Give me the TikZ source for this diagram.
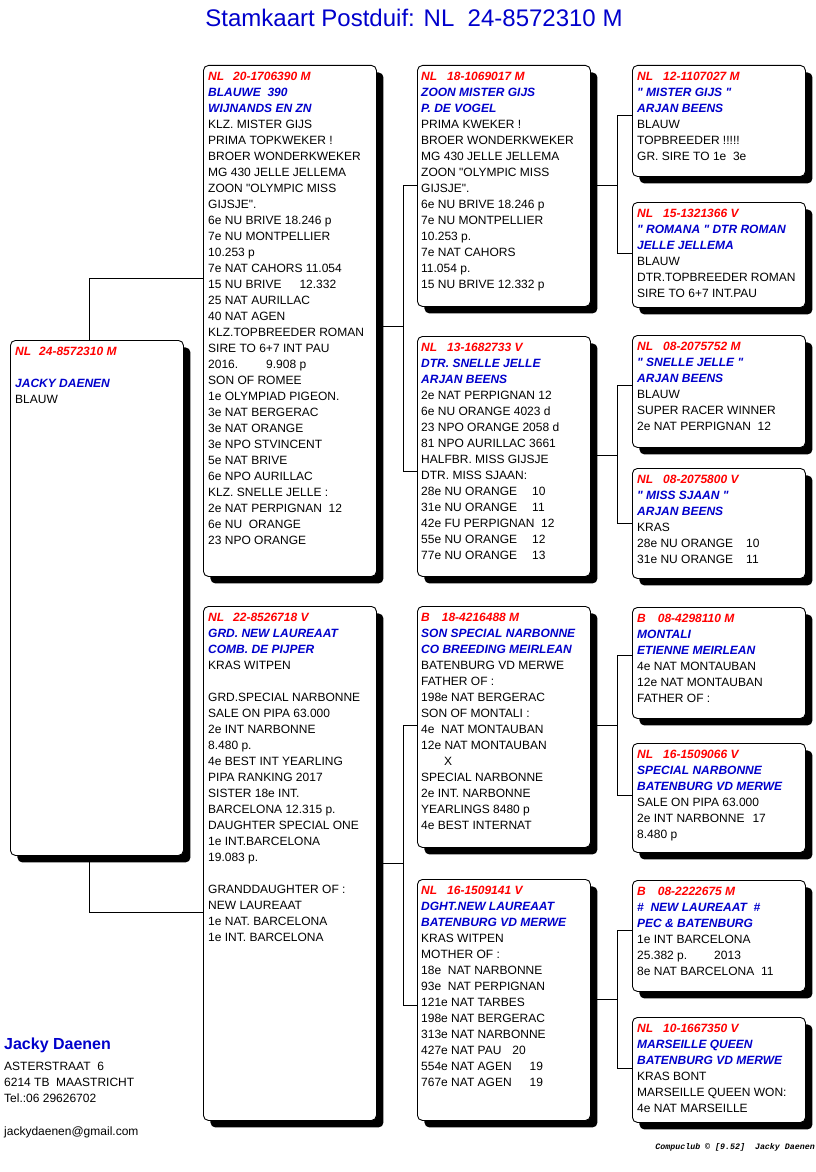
\documentclass[tikz,border=0pt]{standalone}
\usepackage{fontspec}
\setmainfont{Liberation Sans}[Ligatures=TeXOff]
\newfontfamily\clubfont{Liberation Mono}
\usepackage{xcolor}
\usepackage{tikz}
\usetikzlibrary{
  shadows,
  calc
}
\definecolor{pdRed}{HTML}{FF0000}
\definecolor{pdBlue}{HTML}{0000CC}
\newcommand{\ring}[1]{\textcolor{pdRed}{\bfseries\itshape #1}}
\newcommand{\naam}[1]{\textcolor{pdBlue}{\bfseries\itshape #1}}
\tikzset{
  card/.style={
    draw, line width=0.9pt, rounded corners=5pt, fill=white, anchor=north west,
    minimum width=173pt, inner sep=0pt,
    drop shadow={shadow xshift=7pt, shadow yshift=-7pt, fill=black, opacity=1}
  },
  cardtext/.style={anchor=north west, inner sep=0pt, align=left, font=\fontsize{12}{16}\selectfont},
  link/.style={line width=0.9pt, black},
  title/.style={anchor=base, inner sep=0pt, font=\fontsize{24}{28}\selectfont, text=pdBlue},
  owner/.style={anchor=north west, inner sep=0pt, align=left, font=\fontsize{12}{16}\selectfont},
  footer/.style={anchor=base east, inner sep=0pt, font=\clubfont\bfseries\itshape\fontsize{8.3}{10}\selectfont}
}
\begin{document}
\begin{tikzpicture}[x=1pt, y=-1pt]
  \fill[white] (0,0) rectangle (816,1172);
  \useasboundingbox (0,0) rectangle (816,1172);

  \node[title] (title) at (414,27) {Stamkaart Postduif: NL\ \ 24-8572310 M};

  \foreach \n/\x/\y/\h in {
    r/10/340/515,
    p1/203/65/511, p2/203/606/514,
    p11/417/65/241, p12/417/336/240, p21/417/606/241, p22/417/879/241,
    g1/632/65/111, g2/632/202/105, g3/632/335/112, g4/632/468/110,
    g5/632/607/111, g6/632/743/109, g7/632/880/111, g8/632/1017/105}{
    \node[card, minimum height=\h pt] (\n) at (\x,\y) {};
  }

  \draw[link] ([xshift=79pt]r.north west) |- ([yshift=-213pt]p1.north west);
  \draw[link] ([xshift=79pt]r.south west) |- ([yshift=-306pt]p2.north west);

  \draw[link] ([yshift=-261pt]p1.north east) -- ++(27,0);
  \draw[link] ([yshift=-120pt]p11.north west) -- ++(-14,0) |- ([yshift=-135pt]p12.north west);
  \draw[link] ([yshift=-257pt]p2.north east) -- ++(27,0);
  \draw[link] ([yshift=-119pt]p21.north west) -- ++(-14,0) |- ([yshift=-126pt]p22.north west);

  \draw[link] ([yshift=-120pt]p11.north east) -- ++(27,0);
  \draw[link] ([yshift=-50pt]g1.north west) -- ++(-15,0) |- ([yshift=-51pt]g2.north west);
  \draw[link] ([yshift=-119pt]p12.north east) -- ++(27,0);
  \draw[link] ([yshift=-50pt]g3.north west) -- ++(-15,0) |- ([yshift=-55pt]g4.north west);
  \draw[link] ([yshift=-119pt]p21.north east) -- ++(27,0);
  \draw[link] ([yshift=-48pt]g5.north west) -- ++(-15,0) |- ([yshift=-52pt]g6.north west);
  \draw[link] ([yshift=-120pt]p22.north east) -- ++(27,0);
  \draw[link] ([yshift=-50pt]g7.north west) -- ++(-15,0) |- ([yshift=-51pt]g8.north west);

  \node[cardtext] (rt) at ([shift={(5,7)}]r.north west)
    {\ring{NL\hspace{8pt}24-8572310 M}\\[16pt]\naam{JACKY DAENEN}\\BLAUW};

  \node[cardtext] (p1t) at ([shift={(5,7)}]p1.north west)
    {\ring{NL\hspace{9pt}20-1706390 M}\\
     \naam{BLAUWE\ \ 390}\\
     \naam{WIJNANDS EN ZN}\\
     KLZ. MISTER GIJS\\
     PRIMA TOPKWEKER !\\
     BROER WONDERKWEKER\\
     MG 430 JELLE JELLEMA\\
     ZOON "OLYMPIC MISS\\
     GIJSJE".\\
     6e NU BRIVE 18.246 p\\
     7e NU MONTPELLIER\\
     10.253 p\\
     7e NAT CAHORS 11.054\\
     15 NU BRIVE\hspace{18pt}12.332\\
     25 NAT AURILLAC\\
     40 NAT AGEN\\
     KLZ.TOPBREEDER ROMAN\\
     SIRE TO 6+7 INT PAU\\
     2016.\hspace{28pt}9.908 p\\
     SON OF ROMEE\\
     1e OLYMPIAD PIGEON.\\
     3e NAT BERGERAC\\
     3e NAT ORANGE\\
     3e NPO STVINCENT\\
     5e NAT BRIVE\\
     6e NPO AURILLAC\\
     KLZ. SNELLE JELLE :\\
     2e NAT PERPIGNAN\ \ 12\\
     6e NU\ \ ORANGE\\
     23 NPO ORANGE};

  \node[cardtext] (p2t) at ([shift={(5,7)}]p2.north west)
    {\ring{NL\hspace{9pt}22-8526718 V}\\
     \naam{GRD. NEW LAUREAAT}\\
     \naam{COMB. DE PIJPER}\\
     KRAS WITPEN\\[16pt]
     GRD.SPECIAL NARBONNE\\
     SALE ON PIPA 63.000\\
     2e INT NARBONNE\\
     8.480 p.\\
     4e BEST INT YEARLING\\
     PIPA RANKING 2017\\
     SISTER 18e INT.\\
     BARCELONA 12.315 p.\\
     DAUGHTER SPECIAL ONE\\
     1e INT.BARCELONA\\
     19.083 p.\\[16pt]
     GRANDDAUGHTER OF :\\
     NEW LAUREAAT\\
     1e NAT. BARCELONA\\
     1e INT. BARCELONA};

  \node[cardtext] (p11t) at ([shift={(4,7)}]p11.north west)
    {\ring{NL\hspace{10pt}18-1069017 M}\\
     \naam{ZOON MISTER GIJS}\\
     \naam{P. DE VOGEL}\\
     PRIMA KWEKER !\\
     BROER WONDERKWEKER\\
     MG 430 JELLE JELLEMA\\
     ZOON "OLYMPIC MISS\\
     GIJSJE".\\
     6e NU BRIVE 18.246 p\\
     7e NU MONTPELLIER\\
     10.253 p.\\
     7e NAT CAHORS\\
     11.054 p.\\
     15 NU BRIVE 12.332 p};

  \node[cardtext] (p12t) at ([shift={(4,7)}]p12.north west)
    {\ring{NL\hspace{10pt}13-1682733 V}\\
     \naam{DTR. SNELLE JELLE}\\
     \naam{ARJAN BEENS}\\
     2e NAT PERPIGNAN 12\\
     6e NU ORANGE 4023 d\\
     23 NPO ORANGE 2058 d\\
     81 NPO AURILLAC 3661\\
     HALFBR. MISS GIJSJE\\
     DTR. MISS SJAAN:\\
     28e NU ORANGE\hspace{15pt}10\\
     31e NU ORANGE\hspace{15pt}11\\
     42e FU PERPIGNAN\ \ 12\\
     55e NU ORANGE\hspace{15pt}12\\
     77e NU ORANGE\hspace{15pt}13};

  \node[cardtext] (p21t) at ([shift={(4,7)}]p21.north west)
    {\ring{B\hspace{12pt}18-4216488 M}\\
     \naam{SON SPECIAL NARBONNE}\\
     \naam{CO BREEDING MEIRLEAN}\\
     BATENBURG VD MERWE\\
     FATHER OF :\\
     198e NAT BERGERAC\\
     SON OF MONTALI :\\
     4e\ \ NAT MONTAUBAN\\
     12e NAT MONTAUBAN\\
     \hspace{23pt}X\\
     SPECIAL NARBONNE\\
     2e INT. NARBONNE\\
     YEARLINGS 8480 p\\
     4e BEST INTERNAT};

  \node[cardtext] (p22t) at ([shift={(4,7)}]p22.north west)
    {\ring{NL\hspace{10pt}16-1509141 V}\\
     \naam{DGHT.NEW LAUREAAT}\\
     \naam{BATENBURG VD MERWE}\\
     KRAS WITPEN\\
     MOTHER OF :\\
     18e\ \ NAT NARBONNE\\
     93e\ \ NAT PERPIGNAN\\
     121e NAT TARBES\\
     198e NAT BERGERAC\\
     313e NAT NARBONNE\\
     427e NAT PAU\hspace{11pt}20\\
     554e NAT AGEN\hspace{18pt}19\\
     767e NAT AGEN\hspace{18pt}19};

  \node[cardtext] (g1t) at ([shift={(5,7)}]g1.north west)
    {\ring{NL\hspace{10pt}12-1107027 M}\\
     \naam{" MISTER GIJS "}\\
     \naam{ARJAN BEENS}\\
     BLAUW\\
     TOPBREEDER !!!!!\\
     GR. SIRE TO 1e\ \ 3e};

  \node[cardtext] (g2t) at ([shift={(5,7)}]g2.north west)
    {\ring{NL\hspace{10pt}15-1321366 V}\\
     \naam{" ROMANA " DTR ROMAN}\\
     \naam{JELLE JELLEMA}\\
     BLAUW\\
     DTR.TOPBREEDER ROMAN\\
     SIRE TO 6+7 INT.PAU};

  \node[cardtext] (g3t) at ([shift={(5,7)}]g3.north west)
    {\ring{NL\hspace{10pt}08-2075752 M}\\
     \naam{" SNELLE JELLE "}\\
     \naam{ARJAN BEENS}\\
     BLAUW\\
     SUPER RACER WINNER\\
     2e NAT PERPIGNAN\ \ 12};

  \node[cardtext] (g4t) at ([shift={(5,7)}]g4.north west)
    {\ring{NL\hspace{10pt}08-2075800 V}\\
     \naam{" MISS SJAAN "}\\
     \naam{ARJAN BEENS}\\
     KRAS\\
     28e NU ORANGE\hspace{13pt}10\\
     31e NU ORANGE\hspace{13pt}11};

  \node[cardtext] (g5t) at ([shift={(5,7)}]g5.north west)
    {\ring{B\hspace{12pt}08-4298110 M}\\
     \naam{MONTALI}\\
     \naam{ETIENNE MEIRLEAN}\\
     4e NAT MONTAUBAN\\
     12e NAT MONTAUBAN\\
     FATHER OF :};

  \node[cardtext] (g6t) at ([shift={(5,7)}]g6.north west)
    {\ring{NL\hspace{10pt}16-1509066 V}\\
     \naam{SPECIAL NARBONNE}\\
     \naam{BATENBURG VD MERWE}\\
     SALE ON PIPA 63.000\\
     2e INT NARBONNE\hspace{8pt}17\\
     8.480 p};

  \node[cardtext] (g7t) at ([shift={(5,7)}]g7.north west)
    {\ring{B\hspace{12pt}08-2222675 M}\\
     \naam{\#\ \ NEW LAUREAAT\ \ \#}\\
     \naam{PEC \& BATENBURG}\\
     1e INT BARCELONA\\
     25.382 p.\hspace{27pt}2013\\
     8e NAT BARCELONA\ \ 11};

  \node[cardtext] (g8t) at ([shift={(5,7)}]g8.north west)
    {\ring{NL\hspace{10pt}10-1667350 V}\\
     \naam{MARSEILLE QUEEN}\\
     \naam{BATENBURG VD MERWE}\\
     KRAS BONT\\
     MARSEILLE QUEEN WON:\\
     4e NAT MARSEILLE};

  \node[anchor=base west, inner sep=0pt, font=\fontsize{16}{20}\selectfont\bfseries, text=pdBlue]
    (kweker) at (4,1049) {Jacky Daenen};
  \node[owner] (adres) at (4,1062) {ASTERSTRAAT\ \ 6\\6214 TB\ \ MAASTRICHT\\Tel.:06 29626702};
  \node[owner] (mail) at (4,1127) {jackydaenen@gmail.com};
  \node[footer] (club) at (815,1149) {Compuclub © [9.52]\ \ Jacky Daenen};
\end{tikzpicture}
\end{document}
